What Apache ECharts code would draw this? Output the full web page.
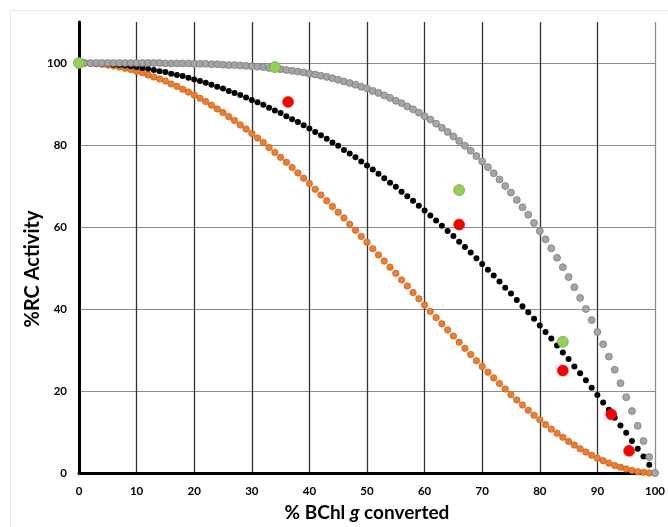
<!DOCTYPE html>
<html>
<head>
    <meta charset="utf-8">
    <script src="https://cdn.jsdelivr.net/npm/echarts@6/dist/echarts.min.js"></script>
    <style>
        body{
            margin:0;
            padding:0;
            background:#fff;
        }
    </style>
</head>
<body>
<div id="main" style="width:668px;height:527px;"></div>
<script type="text/javascript">
// % BChl g converted, 0..100 step 1
var xVals = [];
for (var i = 0; i <= 100; i++) xVals.push(i);

// gray dotted curve
var grayCurve = [100,100.0,100.0,100.0,100.0,100.0,100.0,100.0,100.0,100.0,100.0,
  100.0,100.0,100.0,100.0,99.9,99.9,99.9,99.9,99.9,99.8,
  99.8,99.8,99.7,99.7,99.6,99.5,99.5,99.4,99.3,99.2,
  99.1,99.0,98.8,98.7,98.5,98.3,98.1,97.9,97.7,97.4,
  97.2,96.9,96.6,96.3,95.9,95.5,95.1,94.7,94.2,93.8,
  93.2,92.7,92.1,91.5,90.8,90.2,89.4,88.7,87.9,87.0,
  86.2,85.2,84.2,83.2,82.1,81.0,79.8,78.6,77.3,76.0,
  74.6,73.1,71.6,70.0,68.4,66.6,64.8,63.0,61.0,59.0,
  57.0,54.8,52.5,50.2,47.8,45.3,42.7,40.0,37.3,34.4,
  31.4,28.4,25.2,21.9,18.5,15.1,11.5,7.8,3.9,0];

// black dotted curve
var blackCurve = [100,100.0,100.0,99.9,99.8,99.8,99.6,99.5,99.4,99.2,99.0,
  98.8,98.6,98.3,98.0,97.8,97.4,97.1,96.8,96.4,96.0,
  95.6,95.2,94.7,94.2,93.8,93.2,92.7,92.2,91.6,91.0,
  90.4,89.8,89.1,88.4,87.8,87.0,86.3,85.6,84.8,84.0,
  83.2,82.4,81.5,80.6,79.8,78.8,77.9,77.0,76.0,75.0,
  74.0,73.0,71.9,70.8,69.8,68.6,67.5,66.4,65.2,64.0,
  62.8,61.6,60.3,59.0,57.8,56.4,55.1,53.8,52.4,51.0,
  49.6,48.2,46.7,45.2,43.8,42.2,40.7,39.2,37.6,36.0,
  34.4,32.8,31.1,29.4,27.8,26.0,24.3,22.6,20.8,19.0,
  17.2,15.4,13.5,11.6,9.8,7.8,5.9,4.0,2.0,0];

// orange dotted curve
var orangeCurve = [100,100.0,99.9,99.8,99.7,99.5,99.3,99.0,98.7,98.4,98.0,
  97.6,97.1,96.6,96.1,95.6,94.9,94.3,93.6,92.9,92.2,
  91.4,90.6,89.7,88.8,87.9,86.9,86.0,84.9,83.9,82.8,
  81.7,80.6,79.4,78.2,77.0,75.8,74.5,73.2,71.9,70.6,
  69.2,67.8,66.4,65.0,63.6,62.2,60.7,59.2,57.7,56.3,
  54.7,53.2,51.7,50.2,48.7,47.1,45.6,44.0,42.5,41.0,
  39.4,37.9,36.4,34.9,33.4,31.9,30.4,28.9,27.4,26.0,
  24.6,23.2,21.8,20.5,19.1,17.8,16.6,15.3,14.1,13.0,
  11.8,10.7,9.7,8.7,7.7,6.8,5.9,5.1,4.3,3.6,
  3.0,2.4,1.8,1.4,1.0,0.6,0.3,0.2,0.0,0];

// measured points
var greenX = [0, 34, 66, 84];
var greenY = [100, 99, 69, 32];
var redX = [36.3, 66, 84, 92.4, 95.5];
var redY = [90.5, 60.6, 25, 14.3, 5.4];

var yTicks = [0, 20, 40, 60, 80, 100];

function pairs(xs, ys) {
  var out = [];
  for (var i = 0; i < xs.length; i++) out.push([xs[i], ys[i]]);
  return out;
}

var myChart = echarts.init(document.getElementById('main'));
var font = 'Lato, "Liberation Sans", sans-serif';

var option = {
  animation: false,
  graphic: [
    {
      type: 'rect',
      shape: { x: 10.5, y: 10.5, width: 700, height: 600 },
      style: { fill: 'none', stroke: '#e6e6e6', lineWidth: 1 },
      silent: true
    },
    {
      type: 'text',
      x: 33, y: 269,
      rotation: Math.PI / 2,
      style: {
        text: '%RC Activity',
        font: 'bold 20px ' + font,
        fill: '#000',
        align: 'center',
        verticalAlign: 'middle'
      }
    }
  ],
  grid: {
    left: 79,
    right: 12,
    top: 22,
    bottom: 52
  },
  xAxis: {
    type: 'value',
    min: 0,
    max: 100,
    interval: 10,
    name: '{a|% BChl }{b|g}{a| converted}',
    nameLocation: 'middle',
    nameGap: 30,
    nameTextStyle: {
      rich: {
        a: { fontFamily: font, fontWeight: 'bold', fontSize: 19, color: '#000' },
        b: { fontFamily: font, fontWeight: 'bold', fontStyle: 'italic', fontSize: 19, color: '#000' }
      }
    },
    axisLine: { show: true, onZero: false, lineStyle: { color: '#000', width: 3 } },
    axisTick: { show: false },
    axisLabel: { margin: 12, fontFamily: font, fontWeight: 'bold', fontSize: 11.5, color: '#000' },
    splitLine: {
      show: true,
      lineStyle: {
        color: ['#000', '#333', '#333', '#333', '#333', '#333',
                '#333', '#333', '#333', '#333', '#8c8c8c'],
        width: 1.3
      }
    }
  },
  yAxis: {
    type: 'value',
    min: 0,
    max: 110,
    interval: 20,
    axisLine: { show: true, onZero: false, lineStyle: { color: '#000', width: 3 } },
    axisTick: { show: false },
    axisLabel: {
      margin: 12,
      fontFamily: font, fontWeight: 'bold', fontSize: 11.5, color: '#000',
      formatter: function (v) { return yTicks.indexOf(v) >= 0 ? String(v) : ''; }
    },
    splitLine: {
      show: true,
      lineStyle: {
        color: ['#000', '#8c8c8c', '#8c8c8c', '#8c8c8c', '#8c8c8c', '#8c8c8c', 'rgba(0,0,0,0)'],
        width: 1
      }
    }
  },
  series: [
    {
      type: 'scatter',
      z: 2,
      symbolSize: 6.5,
      itemStyle: { color: '#ed7d31', borderColor: '#b85a1c', borderWidth: 0.6, opacity: 1 },
      data: pairs(xVals, orangeCurve)
    },
    {
      type: 'scatter',
      z: 3,
      symbolSize: 6,
      itemStyle: { color: '#000', opacity: 1 },
      data: pairs(xVals, blackCurve)
    },
    {
      type: 'scatter',
      z: 4,
      symbolSize: 7,
      itemStyle: { color: '#a5a5a5', borderColor: '#767676', borderWidth: 0.7, opacity: 1 },
      data: pairs(xVals, grayCurve)
    },
    {
      type: 'scatter',
      z: 5,
      symbolSize: 11,
      itemStyle: { color: '#ff0000', borderColor: '#d00000', borderWidth: 0.5, opacity: 1 },
      data: pairs(redX, redY)
    },
    {
      type: 'scatter',
      z: 6,
      symbolSize: 11,
      itemStyle: { color: '#92d050', borderColor: '#7a9a60', borderWidth: 0.7, opacity: 1 },
      data: pairs(greenX, greenY)
    }
  ]
};
myChart.setOption(option);
</script>
</body>
</html>
